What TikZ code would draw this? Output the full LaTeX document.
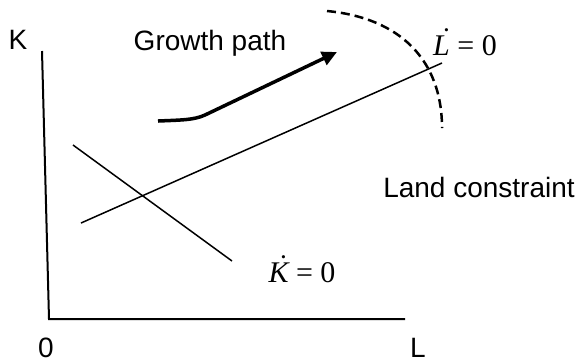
\documentclass[tikz,border=0pt]{standalone}
\usepackage{fontspec}
\setmainfont{Liberation Sans}
\newfontfamily\tnr{Liberation Serif}
\usetikzlibrary{arrows.meta}
\newcommand{\tdot}[1]{\ooalign{#1\cr\hidewidth\kern0.2em\raisebox{0.22em}{\symbol{"02D9}}\hidewidth\cr}}

\begin{document}
\begin{tikzpicture}[x=0.5pt, y=-0.5pt,
  axisline/.style={line width=1pt},
  locus/.style={line width=0.75pt},
  growth/.style={line width=1.75pt, -{Triangle[length=7.5pt,width=7pt]}},
  landline/.style={line width=1.25pt, dash pattern=on 4.5pt off 2.5pt},
  lbl/.style={anchor=base, inner sep=0pt, font=\fontsize{14}{16}\selectfont},
  eqlbl/.style={anchor=base, inner sep=0pt, font=\fontsize{15}{17}\selectfont\tnr}]
\useasboundingbox (0,0) rectangle (581,361);
% axes
\coordinate (ytop) at (42,51);
\coordinate (orig) at (49,319);
\coordinate (xend) at (405,319);
\draw[axisline] (ytop) -- (orig) -- (xend);
\node[lbl] (klab) at (18,49) {K};
\node[lbl] (olab) at (46,357) {0};
\node[lbl] (llab) at (418,357) {L};
% loci
\coordinate (kdA) at (73,145);
\coordinate (kdB) at (232,261);
\coordinate (ldA) at (81,223);
\coordinate (ldB) at (442,63);
\draw[locus] (kdA) -- (kdB);
\draw[locus] (ldA) -- (ldB);
\node[eqlbl] (kdot) at (302,282) {\itshape\tdot{K} \upshape= 0};
\node[eqlbl] (ldot) at (465,55) {\itshape\tdot{L} \upshape= 0};
% growth path
\coordinate (gpA) at (158,121);
\coordinate (gpB) at (205,115);
\coordinate (gpC) at (337,52);
\draw[growth] (gpA) .. controls (182,120) and (194,120) .. (gpB) -- (gpC);
\node[lbl] (gplab) at (210,50) {Growth path};
% land constraint
\coordinate (lcA) at (327,11);
\coordinate (lcB) at (442,128);
\draw[landline] (lcA) .. controls (400,18) and (442,60) .. (lcB);
\node[lbl] (lclab) at (479,197) {Land constraint};
\end{tikzpicture}
\end{document}
